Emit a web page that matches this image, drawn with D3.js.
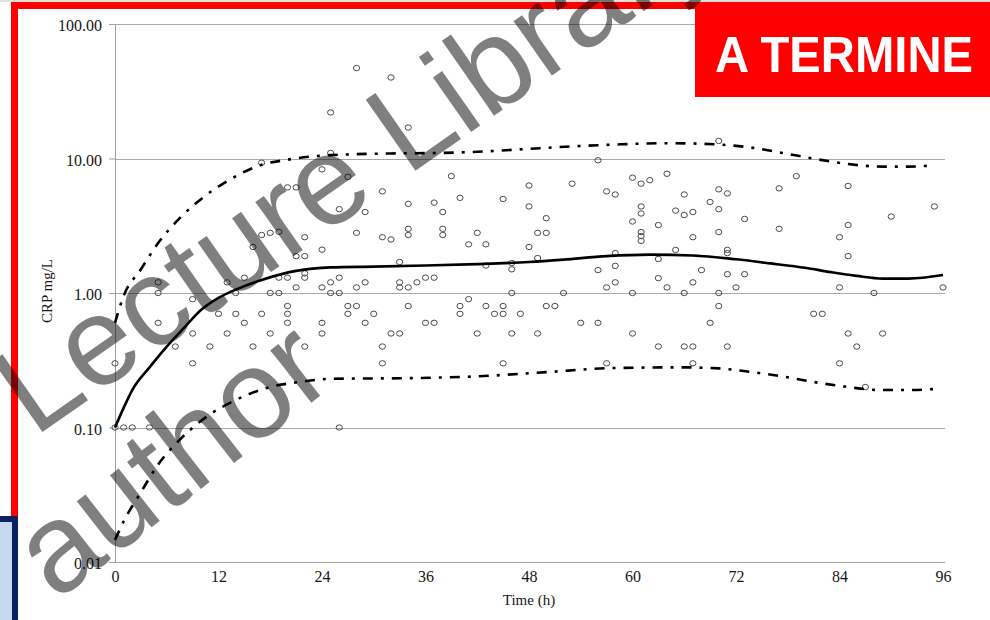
<!DOCTYPE html>
<html>
<head>
<meta charset="utf-8">
<script src="https://cdn.jsdelivr.net/npm/d3@7"></script>
<style>
  html, body { margin: 0; padding: 0; background: #fff; overflow: hidden; }
  svg { display: block; }
</style>
</head>
<body>
<svg id="chart" width="990" height="620"></svg>
<script>
// Axis ticks
const timeTicks = [0, 12, 24, 36, 48, 60, 72, 84, 96];
const crpTicks = [0.01, 0.1, 1, 10, 100];

// Observed CRP concentrations: [time (h), CRP (mg/L)]
const observations = [
  [25, 22], [25, 11], [17, 9.3], [24, 8.3], [20, 6.1], [21, 6.1], [17, 2.7], [18, 2.8], [19, 2.85],
  [22, 2.6], [16, 2.2], [24, 2.1], [21, 1.88], [22, 1.88], [15, 1.3], [19, 1.3], [20, 1.3], [22, 1.4], [22, 1.3],
  [5, 1.2], [13, 1.2], [21, 1.1], [24, 1.1], [5, 1.0], [14, 1.0], [18, 1.0], [19, 1.0], [9, 0.9], [5, 0.6],
  [12, 0.7], [14, 0.7], [17, 0.7], [20, 0.8], [20, 0.7], [20, 0.6], [15, 0.6], [24, 0.6], [9, 0.5], [13, 0.5],
  [18, 0.5], [24, 0.5], [7, 0.4], [11, 0.4], [16, 0.4], [22, 0.4], [9, 0.3], [0, 0.3], [0, 0.1], [1, 0.1],
  [2, 0.1], [4, 0.1], [26, 0.1],
  [27, 7.3], [26, 4.2], [31, 5.7], [39, 7.4], [48, 6.3], [40, 5.1], [45, 5.0], [34, 4.6], [37, 4.7], [48, 4.4],
  [29, 4.0], [38, 4.0], [50, 3.6], [28, 2.8], [34, 3.0], [34, 2.7], [38, 3.0], [38, 2.7], [31, 2.6], [32, 2.5],
  [42, 2.8], [49, 2.8], [50, 2.8], [41, 2.3], [43, 2.3], [48, 2.2], [33, 1.7], [43, 1.6], [46, 1.67], [46, 1.5],
  [49, 1.82], [26, 1.3], [25, 1.2], [28, 1.1], [29, 1.2], [33, 1.2], [33, 1.1], [34, 1.1], [35, 1.2], [36, 1.3],
  [37, 1.3], [25, 1.0], [26, 1.0], [46, 1.0], [41, 0.9], [27, 0.8], [27, 0.7], [28, 0.8], [30, 0.7], [34, 0.8],
  [40, 0.8], [40, 0.7], [43, 0.8], [44, 0.7], [45, 0.8], [45, 0.7], [47, 0.7], [50, 0.8], [51, 0.8], [29, 0.6],
  [36, 0.6], [37, 0.6], [32, 0.5], [33, 0.5], [42, 0.5], [46, 0.5], [49, 0.5], [31, 0.4], [31, 0.3], [45, 0.3],
  [56, 9.7], [53, 6.5], [60, 7.2], [61, 6.5], [62, 6.9], [64, 7.7], [57, 5.7], [58, 5.4], [66, 5.4], [70, 5.9],
  [71, 5.5], [69, 4.75], [70, 4.2], [65, 4.1], [66, 3.8], [67, 4.0], [61, 4.4], [61, 3.9], [60, 3.4], [63, 3.2],
  [73, 3.55], [77, 6.0], [77, 3.0], [79, 7.4], [61, 2.84], [61, 2.65], [61, 2.44], [70, 2.84], [67, 2.6], [58, 1.98],
  [65, 2.09], [71, 2.09], [71, 1.98], [63, 1.79], [56, 1.48], [58, 1.59], [68, 1.48], [71, 1.38], [73, 1.38], [63, 1.29],
  [57, 1.1], [58, 1.2], [64, 1.1], [67, 1.2], [72, 1.1], [52, 1.0], [60, 1.0], [66, 1.0], [70, 1.0], [70, 0.8],
  [54, 0.6], [56, 0.6], [69, 0.6], [60, 0.5], [63, 0.4], [66, 0.4], [67, 0.4], [71, 0.4], [57, 0.3], [67, 0.3],
  [70, 13.5], [85, 6.25], [95, 4.4], [90, 3.7], [85, 3.2], [84, 2.6], [85, 1.88], [84, 1.1], [96, 1.1], [88, 1.0],
  [81, 0.7], [82, 0.7], [85, 0.5], [89, 0.5], [86, 0.4], [84, 0.3], [87, 0.2], [28, 47], [32, 40], [34, 17]
];

// Model prediction: median and 5th / 95th percentiles
const medianCurve = [
  [0, 0.1], [1, 0.14], [2, 0.19], [4, 0.28], [6, 0.40], [8, 0.55], [10, 0.75], [12, 0.92], [14, 1.06],
  [17, 1.25], [21, 1.46], [25, 1.55], [30, 1.57], [36, 1.6], [42, 1.64], [48, 1.7], [52, 1.77], [57, 1.88],
  [62, 1.93], [67, 1.9], [72, 1.78], [76, 1.66], [80, 1.54], [83, 1.43], [86, 1.34], [89, 1.28], [92, 1.28], [96, 1.36]
];
const upperCurve = [
  [0, 0.6], [1, 0.95], [3, 1.5], [5, 2.35], [7.5, 3.6], [10.5, 5.3], [13.7, 7.2], [16.8, 8.9], [20, 9.8],
  [25, 10.6], [32, 10.9], [38, 11.0], [43, 11.3], [48, 11.8], [53, 12.3], [58, 12.7], [64, 13.0], [70, 12.7],
  [74, 12.0], [77.4, 11.0], [81.3, 9.9], [85, 9.1], [89, 8.7], [92, 8.7], [95, 8.9]
];
const lowerCurve = [
  [0, 0.0146], [1, 0.02], [3, 0.033], [5, 0.053], [7.5, 0.081], [10.6, 0.12], [14, 0.16], [17.6, 0.197],
  [21.4, 0.218], [25, 0.23], [34.5, 0.233], [42, 0.24], [50, 0.258], [58, 0.277], [65.8, 0.28], [70, 0.275],
  [73.5, 0.26], [78.5, 0.233], [81, 0.218], [85, 0.2], [88.7, 0.19], [92, 0.19], [95, 0.193]
];

const svg = d3.select('#chart');
const x = d3.scaleLinear().domain([0, 96]).range([115, 943]);
const y = d3.scaleLog().domain([0.01, 100]).range([562, 24]);

// page backdrop and slide frame
svg.append('rect').attr('width', 990).attr('height', 620).attr('fill', '#fff');
svg.append('rect').attr('width', 990).attr('height', 2).attr('fill', '#e3e1d9');
svg.append('rect')
  .attr('x', 14.5).attr('y', 5.5).attr('width', 1100).attr('height', 800)
  .attr('fill', 'none').attr('stroke', '#ff0000').attr('stroke-width', 7);

// horizontal gridlines
svg.append('g').selectAll('line')
  .data(crpTicks.filter(d => d > 0.01))
  .join('line')
  .attr('x1', x(0)).attr('x2', x(96) + 2)
  .attr('y1', d => Math.round(y(d)) + 0.5).attr('y2', d => Math.round(y(d)) + 0.5)
  .attr('stroke', '#a8a8a8').attr('stroke-width', 1);

// y axis
const yAxis = svg.append('g')
  .attr('transform', `translate(${x(0)},0)`)
  .call(d3.axisLeft(y).tickValues(crpTicks).tickFormat(d3.format('.2f'))
    .tickSizeInner(6).tickSizeOuter(0).tickPadding(7));
yAxis.select('.domain').attr('stroke', '#a0a0a0');
yAxis.selectAll('.tick line').attr('stroke', '#a0a0a0');
yAxis.selectAll('.tick text')
  .attr('font-family', '"Liberation Serif", "Times New Roman", serif')
  .attr('font-size', 16).attr('fill', '#161616').attr('dy', '0.42em');

// x axis
const xAxis = svg.append('g')
  .attr('transform', `translate(0,${y(0.01)})`)
  .call(d3.axisBottom(x).tickValues(timeTicks).tickSize(0).tickPadding(9));
xAxis.select('.domain').attr('stroke', '#a0a0a0').attr('d', `M${x(0)},0.5H${x(96) + 2}`);
xAxis.selectAll('.tick text')
  .attr('font-family', '"Liberation Serif", "Times New Roman", serif')
  .attr('font-size', 16).attr('fill', '#161616');

// axis titles
svg.append('text')
  .attr('x', x(48)).attr('y', 605).attr('text-anchor', 'middle')
  .attr('font-family', '"Liberation Serif", "Times New Roman", serif')
  .attr('font-size', 15).attr('fill', '#161616')
  .text('Time (h)');
svg.append('text')
  .attr('transform', 'translate(52,291) rotate(-90)').attr('text-anchor', 'middle')
  .attr('font-family', '"Liberation Serif", "Times New Roman", serif')
  .attr('font-size', 15).attr('fill', '#161616')
  .text('CRP mg/L');

// observations
svg.append('g').selectAll('ellipse')
  .data(observations)
  .join('ellipse')
  .attr('cx', d => x(d[0])).attr('cy', d => y(d[1]))
  .attr('rx', 3.1).attr('ry', 2.7)
  .attr('fill', 'none').attr('stroke', '#4a4a4a').attr('stroke-width', 1);

// prediction curves
const line = d3.line().x(d => x(d[0])).y(d => y(d[1])).curve(d3.curveMonotoneX);
svg.append('path').datum(upperCurve).attr('d', line)
  .attr('fill', 'none').attr('stroke', '#000').attr('stroke-width', 2.6)
  .attr('stroke-dasharray', '10,8,3,8');
svg.append('path').datum(lowerCurve).attr('d', line)
  .attr('fill', 'none').attr('stroke', '#000').attr('stroke-width', 2.6)
  .attr('stroke-dasharray', '10,8,3,8');
svg.append('path').datum(medianCurve).attr('d', line)
  .attr('fill', 'none').attr('stroke', '#000').attr('stroke-width', 2.6);

// status badge
svg.append('rect').attr('x', 695).attr('y', 2).attr('width', 300).attr('height', 95).attr('fill', '#ff0000');
svg.append('text')
  .attr('x', 844).attr('y', 72).attr('text-anchor', 'middle')
  .attr('font-family', '"Liberation Sans", Arial, sans-serif').attr('font-weight', 'bold')
  .attr('font-size', 50).attr('fill', '#fff')
  .attr('textLength', 258).attr('lengthAdjust', 'spacingAndGlyphs')
  .text('A TERMINE');

// side panel
svg.append('rect')
  .attr('x', -20).attr('y', 519).attr('width', 35).attr('height', 200)
  .attr('fill', '#c6d9f1').attr('stroke', '#0b2160').attr('stroke-width', 6);

// watermark
const wm = svg.append('g')
  .attr('font-family', '"Liberation Sans", Arial, sans-serif')
  .attr('font-size', 126).attr('fill', '#000').attr('fill-opacity', 0.5);
wm.append('text').attr('transform', 'translate(34,438) rotate(-35)').text('Lecture Library');
wm.append('text').attr('transform', 'translate(56,602) rotate(-38)').text('author');
</script>
</body>
</html>
